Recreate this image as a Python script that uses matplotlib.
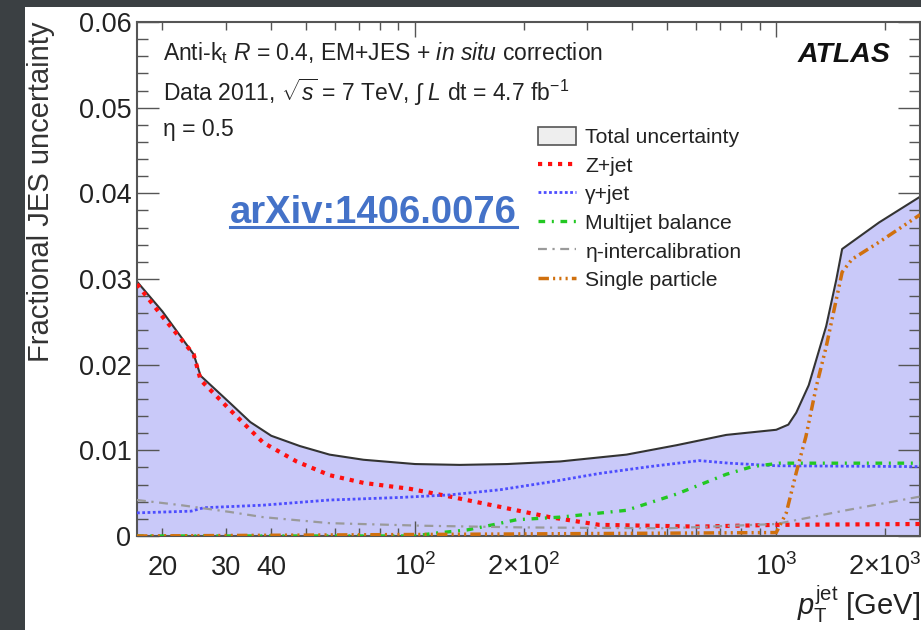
import matplotlib
matplotlib.use("Agg")
from matplotlib import pyplot as plt
from matplotlib.lines import Line2D
from matplotlib.patches import Patch, Rectangle
from matplotlib.ticker import FixedLocator, FuncFormatter

plt.rcParams["font.family"] = ["Liberation Sans", "DejaVu Sans"]
plt.rcParams["mathtext.fontset"] = "custom"
plt.rcParams["mathtext.rm"] = "Liberation Sans"
plt.rcParams["mathtext.it"] = "Liberation Sans:italic"
plt.rcParams["mathtext.bf"] = "Liberation Sans:bold"

# values (pT in GeV, fractional uncertainty)
total_pt = [17, 20, 24.4, 25.5, 30.8, 35, 40, 48, 58, 72, 100, 133, 180, 252,
            385, 530, 727, 1000, 1080, 1136, 1230, 1375, 1466, 1522, 1926, 2500]
total_unc = [0.0297, 0.0262, 0.0212, 0.0187, 0.0155, 0.0133, 0.0117, 0.0105,
             0.0095, 0.0089, 0.0084, 0.0083, 0.0084, 0.0087, 0.0095, 0.0106,
             0.0118, 0.0124, 0.0130, 0.0144, 0.0176, 0.0245, 0.0299, 0.0335,
             0.0366, 0.0396]

zjet_pt = [17, 20, 24.4, 25.5, 30.8, 38, 47, 58, 72, 97, 125, 172, 236, 324,
           612, 1000, 2500]
zjet_unc = [0.0294, 0.0256, 0.0212, 0.0182, 0.0147, 0.0109, 0.0087, 0.0071,
            0.0062, 0.0055, 0.0046, 0.0034, 0.0022, 0.0013, 0.0011, 0.0013,
            0.0014]

gjet_pt = [17, 24, 26, 38, 58, 91, 125, 172, 236, 324, 446, 612, 741, 1000, 2500]
gjet_unc = [0.0027, 0.0029, 0.0033, 0.0036, 0.0042, 0.0045, 0.0048, 0.0054,
            0.0063, 0.0073, 0.0081, 0.0088, 0.0085, 0.0082, 0.0081]

mjb_pt = [17, 100, 112, 139, 164, 191, 252, 385, 530, 727, 858, 1020, 2500]
mjb_unc = [0.0, 0.0, 0.0003, 0.0007, 0.0013, 0.0019, 0.0022, 0.0030, 0.0049,
           0.0072, 0.0081, 0.0085, 0.0085]

eta_pt = [17, 22.5, 30.8, 38, 58, 105, 200, 500, 1000, 1560, 2500]
eta_unc = [0.0042, 0.0036, 0.0028, 0.0022, 0.0015, 0.0012, 0.0010, 0.0009,
           0.0014, 0.0030, 0.0046]

sp_pt = [17, 1000, 1066, 1136, 1208, 1290, 1375, 1466, 1522, 1620, 1926, 2500]
sp_unc = [0.0, 0.0004, 0.0027, 0.0074, 0.0116, 0.0174, 0.0221, 0.0276,
          0.0308, 0.0323, 0.0343, 0.0375]

x_major = [100, 1000]
x_major_labels = [r"$10^2$", r"$10^3$"]
x_minor = [20, 30, 40, 50, 60, 70, 80, 90, 200, 300, 400, 500, 600, 700,
           800, 900, 2000]
x_minor_labels = {20: "20", 30: "30", 40: "40",
                  200: r"$2{\times}10^2$", 2000: r"$2{\times}10^3$"}

styles = [
    ("Z+jet", zjet_pt, zjet_unc, "#ff1010", 3.0, (1, 1.4)),
    ("γ+jet", gjet_pt, gjet_unc, "#4d4dff", 2.0, (1, 0.9)),
    ("Multijet balance", mjb_pt, mjb_unc, "#22c822", 2.4, (2, 2, 0.6, 2)),
    ("η-intercalibration", eta_pt, eta_unc, "#9a9a9a", 1.6, (4, 2.5, 1, 2.5)),
    ("Single particle", sp_pt, sp_unc, "#d0700e", 2.5,
     (3, 1.2, 0.6, 1.2, 0.6, 1.2, 0.6, 1.2)),
]

fig = plt.figure(figsize=(9.21, 6.3), dpi=100, facecolor="#3b4043")
fig.patches.append(Rectangle((25 / 921, 0), 1 - 25 / 921, 623 / 630,
                             transform=fig.transFigure, facecolor="white",
                             edgecolor="none", zorder=-10))

ax = fig.add_axes([137 / 921, 94 / 630, 783 / 921, 514 / 630])
ax.set_facecolor("white")

ax.fill_between(total_pt, 0, total_unc, color="#c9c9f9", lw=0, zorder=1)
ax.plot(total_pt, total_unc, color="#333333", lw=1.5, zorder=2)

handles = [Patch(facecolor="#eeeeee", edgecolor="#555555", lw=1.2,
                 label="Total uncertainty")]
for label, px, py, col, lw, dash in styles:
    ax.plot(px, py, color=col, lw=lw, dashes=dash, zorder=3,
            dash_capstyle="butt", label=label)
    handles.append(Line2D([], [], color=col, lw=lw, dashes=dash,
                          dash_capstyle="butt", label=label))

ax.set_xscale("log")
ax.set_xlim(17, 2500)
ax.set_ylim(0, 0.06)

ax.xaxis.set_major_locator(FixedLocator(x_major))
ax.xaxis.set_major_formatter(FuncFormatter(
    lambda v, p: x_major_labels[x_major.index(round(v))] if round(v) in x_major else ""))
ax.xaxis.set_minor_locator(FixedLocator(x_minor))
ax.xaxis.set_minor_formatter(FuncFormatter(
    lambda v, p: x_minor_labels.get(int(round(v)), "")))

ax.set_yticks([0, 0.01, 0.02, 0.03, 0.04, 0.05, 0.06])
ax.yaxis.set_major_formatter(FuncFormatter(
    lambda v, p: "0" if v == 0 else f"{v:.2f}"))
ax.yaxis.set_minor_locator(FixedLocator([i * 0.002 for i in range(31)]))

ax.tick_params(which="both", direction="in", top=True, right=True,
               color="#555555", width=1.0, labelsize=19.5, labelcolor="#222222")
ax.tick_params(axis="y", which="major", length=16, pad=4)
ax.tick_params(axis="y", which="minor", length=8)
ax.tick_params(axis="x", which="major", length=11, pad=28)
ax.tick_params(axis="x", which="minor", length=6, pad=28)
for lab in ax.get_xticklabels(which="both"):
    lab.set_va("baseline")

for sp in ax.spines.values():
    sp.set_color("#555555")
    sp.set_linewidth(1.5)

ax.set_ylabel("Fractional JES uncertainty", loc="top", fontsize=21,
              color="#333333", labelpad=17)
ax.set_xlabel(r"$p_{\mathrm{T}}^{\mathrm{jet}}$ [GeV]", loc="right",
              fontsize=21, color="#222222", labelpad=2)

ax.text(0.033, 0.940,
        r"Anti-k$_{\mathrm{t}}$ $R$ = 0.4, EM+JES + $in\ situ$ correction",
        transform=ax.transAxes, fontsize=16.5, va="center", ha="left",
        color="#222222")
ax.text(0.033, 0.864,
        r"Data 2011, $\sqrt{s}$ = 7 TeV, $\int$ $L$ dt = 4.7 fb$^{-1}$",
        transform=ax.transAxes, fontsize=16.5, va="center", ha="left",
        color="#222222")
ax.text(0.033, 0.790, "η = 0.5", transform=ax.transAxes, fontsize=16.5,
        va="center", ha="left", color="#222222")
ax.text(0.962, 0.936, "ATLAS", transform=ax.transAxes, fontsize=20.5,
        fontweight="bold", fontstyle="italic", va="center", ha="right",
        color="#111111")

arx = ax.text(0.119, 0.609, "arXiv:1406.0076", transform=ax.transAxes,
              fontsize=27.5, fontweight="bold", va="baseline", ha="left",
              color="#4472c8", zorder=5)

ax.legend(handles=handles, loc="upper left", bbox_to_anchor=(0.512, 0.796),
          frameon=False, fontsize=15.2, handlelength=1.8, handleheight=0.95,
          handletextpad=0.45, labelspacing=0.39, borderpad=0, borderaxespad=0,
          labelcolor="#222222")

# underline the arXiv reference, just under its baseline
fig.canvas.draw()
bb = arx.get_window_extent()
inv = fig.transFigure.inverted()
base = ax.transAxes.transform((0, 0.609))[1]
(x0, y0), (x1, _) = inv.transform([(bb.x0, base - 4), (bb.x1, base - 4)])
fig.add_artist(Line2D([x0, x1], [y0, y0], transform=fig.transFigure,
                      color="#4472c8", lw=2.2))

fig.savefig("out.png", dpi=100, facecolor=fig.get_facecolor())
